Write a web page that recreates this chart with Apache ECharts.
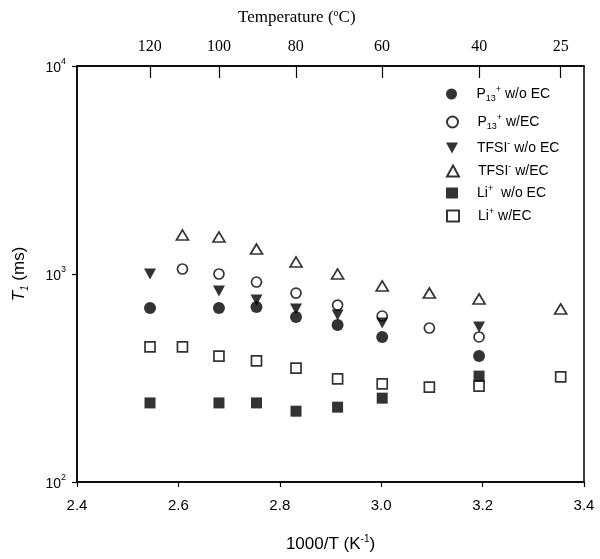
<!DOCTYPE html>
<html>
<head>
<meta charset="utf-8">
<script src="https://cdn.jsdelivr.net/npm/echarts@6/dist/echarts.min.js"></script>
<style>html,body{margin:0;padding:0;background:#fff}#c{width:600px;height:559px}</style>
</head>
<body>
<div id="c"></div>
<script>
// 1000/T values (K^-1) of the measurement columns
const invT = [2.544, 2.608, 2.680, 2.754, 2.832, 2.914, 3.002, 3.095, 3.193, 3.354];
// top axis temperature labels (°C)
const topTempLabels = [120, 100, 80, 60, 40, 25];
// bottom axis ticks
const bottomTicks = [2.4, 2.6, 2.8, 3.0, 3.2, 3.4];
// T1 (ms) per series, null = no point
const p13NoEC  = [686, null, 686, 694, 621, 569, 498, null, 403, null];
const p13EC    = [null, 1057, 1000, 915, 810, 709, 628, 550, 498, null];
const tfsiNoEC = [1000, null, 828, 750, 679, 635, 581, null, 556, null];
const tfsiEC   = [null, 1540, 1506, 1318, 1142, 1000, 876, 810, 759, 679];
const liNoEC   = [240, null, 240, 240, 219, 229, 253, null, 323, null];
const liEC     = [446, 446, 403, 382, 353, 313, 296, 286, 289, 320];
const seriesNames = ['P13+ w/o EC', 'P13+ w/EC', 'TFSI- w/o EC', 'TFSI- w/EC', 'Li+ w/o EC', 'Li+ w/EC'];
const legendRich = {
  'P13+ w/o EC': 'P{sub|13}{sup|+} w/o EC',
  'P13+ w/EC': 'P{sub|13}{sup|+} w/EC',
  'TFSI- w/o EC': 'TFSI{sup|-} w/o EC',
  'TFSI- w/EC': 'TFSI{sup|-} w/EC',
  'Li+ w/o EC': 'Li{sup|+}  w/o EC',
  'Li+ w/EC': 'Li{sup|+} w/EC'
};

function pts(vals) {
  const out = [];
  vals.forEach((v, i) => { if (v != null) out.push([invT[i], v]); });
  return out;
}

const INK = '#000';
const downTri = 'path://M0,0 L12,0 L6,11 Z';
const filled = { color: INK };
const open = { color: '#fff', borderColor: INK, borderWidth: 1.7 };

const seriesDefs = [
  { vals: p13NoEC, symbol: 'circle', size: 12, style: filled },
  { vals: p13EC, symbol: 'circle', size: 10, style: open },
  { vals: tfsiNoEC, symbol: downTri, size: [12, 11], style: filled },
  { vals: tfsiEC, symbol: 'triangle', size: [12, 10], style: open },
  { vals: liNoEC, symbol: 'rect', size: 11, style: filled },
  { vals: liEC, symbol: 'rect', size: 10, style: open }
];

const legendCenters = [94, 122, 148, 171, 193, 216];
const legends = seriesNames.map((n, i) => ({
  data: [n],
  left: 446,
  top: legendCenters[i] - 9,
  padding: 0,
  itemWidth: 12,
  itemHeight: 11,
  selectedMode: false,
  formatter: name => legendRich[name],
  textStyle: {
    fontFamily: 'Liberation Sans', fontSize: 14, color: INK, padding: [0, 0, 0, 14],
    lineHeight: 18,
    rich: {
      sub: { fontSize: 9, verticalAlign: 'bottom', lineHeight: 18, fontFamily: 'Liberation Sans', color: INK },
      sup: { fontSize: 9, verticalAlign: 'top', lineHeight: 18, fontFamily: 'Liberation Sans', color: INK }
    }
  }
}));

const chart = echarts.init(document.getElementById('c'), null, { renderer: 'canvas' });
chart.setOption({
  animation: false,
  backgroundColor: '#fff',
  title: {
    text: 'Temperature ({sup|o}C)',
    left: 233, top: 3,
    textStyle: {
      fontFamily: 'Liberation Serif', fontSize: 17, fontWeight: 'normal', color: INK,
      rich: { sup: { fontFamily: 'Liberation Serif', fontSize: 10, verticalAlign: 'top', lineHeight: 20, color: INK } },
      lineHeight: 20
    }
  },
  legend: legends,
  grid: { left: 73, right: 16, top: 66, bottom: 77, show: true, borderColor: INK, borderWidth: 1.5, backgroundColor: 'transparent' },
  xAxis: [
    {
      type: 'value', position: 'bottom', min: 2.4, max: 3.4, interval: 0.2,
      axisLine: { show: true, onZero: false, lineStyle: { color: INK, width: 1.5 } },
      axisTick: { show: true, inside: false, length: 5, lineStyle: { color: INK, width: 1.2 } },
      splitLine: { show: false },
      axisLabel: {
        customValues: bottomTicks,
        formatter: v => v.toFixed(1), margin: 16,
        fontFamily: 'Liberation Sans', fontSize: 15, color: INK
      },
      name: '1000/T (K{sup|-1})', nameLocation: 'middle', nameGap: 52,
      nameTextStyle: {
        fontFamily: 'Liberation Sans', fontSize: 17, color: INK, lineHeight: 20,
        rich: { sup: { fontFamily: 'Liberation Sans', fontSize: 10, verticalAlign: 'top', lineHeight: 20, color: INK } }
      }
    },
    {
      type: 'value', position: 'top', min: 2.4, max: 3.4,
      axisLine: { show: true, onZero: false, lineStyle: { color: INK, width: 1.5 } },
      axisTick: { show: true, inside: true, length: 12, customValues: topTempLabels.map(t => 1000 / (t + 273.15)), lineStyle: { color: INK, width: 1.2 } },
      splitLine: { show: false },
      axisLabel: {
        customValues: topTempLabels.map(t => 1000 / (t + 273.15)),
        formatter: v => String(Math.round(1000 / v - 273.15)),
        margin: 11, fontFamily: 'Liberation Serif', fontSize: 16, color: INK
      }
    }
  ],
  yAxis: {
    type: 'log', logBase: 10, min: 100, max: 10000,
    axisLine: { show: true, onZero: false, lineStyle: { color: INK, width: 1.5 } },
    axisTick: { show: true, inside: false, length: 5, lineStyle: { color: INK, width: 1.2 } },
    minorTick: { show: false },
    splitLine: { show: false },
    axisLabel: {
      margin: 11,
      formatter: v => '{b|10}{sup|' + Math.round(Math.log10(v)) + '}',
      rich: {
        b: { fontFamily: 'Liberation Sans', fontSize: 14, color: INK, lineHeight: 18, verticalAlign: 'bottom' },
        sup: { fontFamily: 'Liberation Sans', fontSize: 9, color: INK, lineHeight: 18, verticalAlign: 'top' }
      }
    },
    name: '{it|T}{sub|1} (ms)', nameLocation: 'middle', nameGap: 47, nameRotate: 90,
    nameTextStyle: {
      fontFamily: 'Liberation Sans', fontSize: 17, color: INK, lineHeight: 22,
      rich: {
        it: { fontFamily: 'Liberation Sans', fontSize: 17, fontStyle: 'italic', color: INK, lineHeight: 22 },
        sub: { fontFamily: 'Liberation Sans', fontSize: 10, fontStyle: 'italic', verticalAlign: 'bottom', color: INK, lineHeight: 22 }
      }
    }
  },
  series: seriesDefs.map((d, i) => ({
    name: seriesNames[i],
    type: 'scatter',
    xAxisIndex: 0,
    data: pts(d.vals),
    symbol: d.symbol,
    symbolSize: d.size,
    itemStyle: d.style,
    emphasis: { disabled: true }
  }))
});
</script>
</body>
</html>
